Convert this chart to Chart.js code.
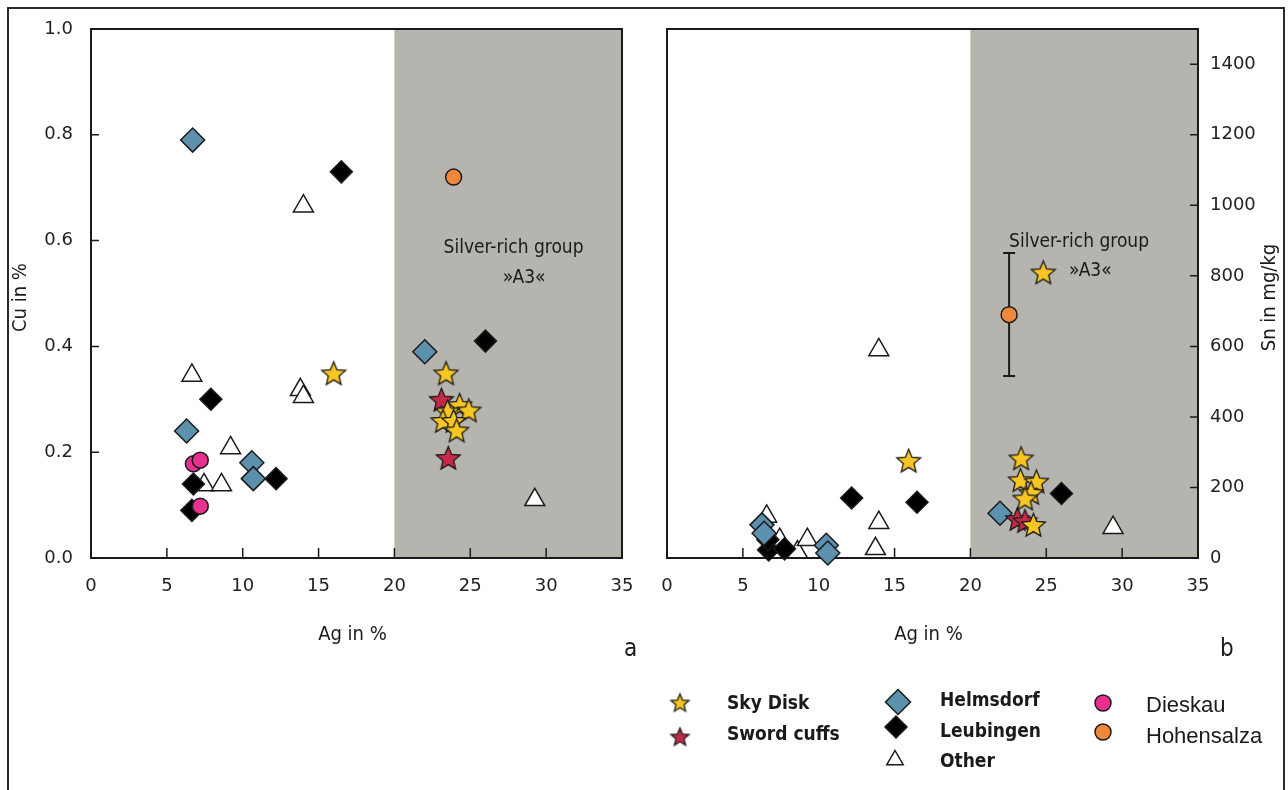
<!DOCTYPE html>
<html>
<head>
<meta charset="utf-8">
<script src="https://cdn.jsdelivr.net/npm/chart.js@4.4.1/dist/chart.umd.min.js"></script>
<style>
  body { margin: 0; background: #fff; width: 1288px; height: 790px; overflow: hidden; position: relative; }
  #frame { position: absolute; left: 7px; top: 7px; width: 1274px; height: 800px; border: 2px solid #2a2a2a; }
  canvas { position: absolute; }
  .lab { position: absolute; white-space: nowrap; color: #1a1a1a; line-height: 1; transform: translateY(-50%); }
  .lg1 { font-family: "DejaVu Sans Condensed", "Liberation Sans Narrow", sans-serif; font-weight: bold; font-size: 19px; }
  .lg2 { font-family: "Liberation Sans", Arial, sans-serif; font-size: 22px; }
  .panel { font-family: "DejaVu Sans Condensed", sans-serif; font-size: 24px; }
</style>
</head>
<body>
<div id="frame"></div>
<canvas id="chartA" width="640" height="660" style="left:0;top:0"></canvas>
<canvas id="chartB" width="648" height="660" style="left:640px;top:0"></canvas>
<canvas id="legend" width="648" height="128" style="left:640px;top:660px"></canvas>
<div class="lab panel" style="left:624px;top:648px">a</div>
<div class="lab panel" style="left:1220px;top:648px">b</div>

<script>
// Achsen
const agTicks = [0, 5, 10, 15, 20, 25, 30, 35];
const cuTicks = [0, 0.2, 0.4, 0.6, 0.8, 1.0];
const snTicks = [0, 200, 400, 600, 800, 1000, 1200, 1400];
const silverRichFrom = 20;

// Panel a: Cu gegen Ag
const skyDiskAgA = [16.0, 23.4, 24.3, 24.9, 23.5, 23.2, 23.9, 24.1];
const skyDiskCu = [0.35, 0.35, 0.29, 0.28, 0.278, 0.26, 0.26, 0.242];
const swordAgA = [23.1, 23.55];
const swordCu = [0.30, 0.19];
const helmsdorfAgA = [6.7, 22.0, 6.3, 10.6, 10.7];
const helmsdorfCu = [0.79, 0.39, 0.24, 0.18, 0.15];
const leubingenAgA = [16.5, 26.0, 7.9, 12.2, 6.75, 6.65];
const leubingenCu = [0.73, 0.41, 0.30, 0.15, 0.14, 0.09];
const otherAgA = [14.0, 6.65, 13.8, 14.0, 9.2, 7.45, 8.6, 29.25];
const otherCu = [0.665, 0.345, 0.318, 0.305, 0.208, 0.138, 0.138, 0.11];
const dieskauAgA = [6.75, 7.2, 7.2];
const dieskauCu = [0.178, 0.185, 0.098];
const hohensalzaAgA = [23.9];
const hohensalzaCu = [0.72];

// Panel b: Sn gegen Ag
const skyDiskAgB = [15.93, 23.34, 23.3, 24.35, 24.0, 23.6, 24.15, 24.8];
const skyDiskSn = [277, 284, 222, 218, 186, 170, 95, 811];
const swordAgB = [23.1, 23.6];
const swordSn = [112, 106];
const helmsdorfAgB = [6.26, 6.4, 10.5, 10.6, 21.95];
const helmsdorfSn = [94, 70, 36, 14, 127];
const leubingenAgB = [12.17, 16.48, 26.0, 6.7, 7.75, 6.65];
const leubingenSn = [170, 158, 183, 23, 26, 52];
const otherAgB = [13.96, 13.96, 13.74, 6.57, 7.43, 8.6, 9.25, 29.4];
const otherSn = [590, 100, 26, 118, 52, 17, 52, 86];
const hohensalzaAgB = [22.55];
const hohensalzaSn = [690];
const hohensalzaSnLow = [516];
const hohensalzaSnHigh = [865];

const colors = {
    sky: '#f7c623', sword: '#c42a48', helmsdorf: '#5b91ad',
    leubingen: '#000000', other: '#ffffff', dieskau: '#e8308f', hohensalza: '#f0883a'
};
const edge = '#1a1a1a';
const tickFont = { family: 'DejaVu Sans', size: 18 };
const condensed = '"DejaVu Sans Condensed", "Liberation Sans Narrow", sans-serif';

// Stern als Bild, weil Chart.js keinen gefuellten Stern kennt
function makeStar(r, fill) {
    const c = document.createElement('canvas');
    const s = Math.ceil(r * 2 + 4);
    c.width = s; c.height = s;
    const g = c.getContext('2d');
    g.beginPath();
    for (let i = 0; i < 10; i++) {
        const rad = i % 2 === 0 ? r : r * 0.45;
        const a = -Math.PI / 2 + i * Math.PI / 5;
        const px = s / 2 + rad * Math.cos(a);
        const py = s / 2 + 1.5 + rad * Math.sin(a);
        if (i === 0) g.moveTo(px, py); else g.lineTo(px, py);
    }
    g.closePath();
    g.fillStyle = fill; g.fill();
    g.lineWidth = 1.3; g.strokeStyle = edge; g.stroke();
    return c;
}

const skyStar = makeStar(12.5, colors.sky);
const swordStar = makeStar(12.5, colors.sword);

function toPoints(xs, ys) {
    return xs.map((x, i) => ({ x: x, y: ys[i] }));
}

function series(label, xs, ys, style, radius, fill, order) {
    return {
        label: label,
        data: toPoints(xs, ys),
        pointStyle: style,
        pointRadius: radius,
        pointHoverRadius: radius,
        pointBackgroundColor: fill,
        pointBorderColor: edge,
        pointBorderWidth: 1.5,
        showLine: false,
        clip: false,
        order: order
    };
}

const panelDecor = {
    id: 'panelDecor',
    beforeDatasetsDraw(chart, args, opts) {
        const { ctx, chartArea: a, scales } = chart;
        const xs = scales.x, ys = scales.y;
        ctx.save();
        // grauer Bereich "Silver-rich"
        const gx = xs.getPixelForValue(opts.shadeFrom);
        ctx.fillStyle = '#b5b4ae';
        ctx.fillRect(gx, a.top, a.right - gx, a.bottom - a.top);
        // Rahmen
        ctx.strokeStyle = edge;
        ctx.lineWidth = 2;
        ctx.strokeRect(a.left, a.top, a.right - a.left, a.bottom - a.top);
        // Teilstriche nach innen
        ctx.lineWidth = 1.5;
        ctx.beginPath();
        xs.ticks.forEach((t, i) => {
            const px = xs.getPixelForTick(i);
            ctx.moveTo(px, a.bottom);
            ctx.lineTo(px, a.bottom - 10);
        });
        ys.ticks.forEach((t, i) => {
            const py = ys.getPixelForTick(i);
            if (opts.ySide === 'left') {
                ctx.moveTo(a.left, py); ctx.lineTo(a.left + 8, py);
            } else {
                ctx.moveTo(a.right, py); ctx.lineTo(a.right - 8, py);
            }
        });
        ctx.stroke();
        // Fehlerbalken
        (opts.errorBars || []).forEach(eb => {
            eb.x.forEach((xv, i) => {
                const px = xs.getPixelForValue(xv);
                const y1 = ys.getPixelForValue(eb.low[i]);
                const y2 = ys.getPixelForValue(eb.high[i]);
                ctx.lineWidth = 2;
                ctx.beginPath();
                ctx.moveTo(px, y1); ctx.lineTo(px, y2);
                ctx.moveTo(px - 6, y1); ctx.lineTo(px + 6, y1);
                ctx.moveTo(px - 6, y2); ctx.lineTo(px + 6, y2);
                ctx.stroke();
            });
        });
        ctx.restore();
    },
    afterDatasetsDraw(chart, args, opts) {
        const { ctx, chartArea: a, scales } = chart;
        ctx.save();
        ctx.fillStyle = '#1a1a1a';
        ctx.textAlign = 'center';
        ctx.textBaseline = 'middle';
        ctx.font = '19px ' + condensed;
        (opts.notes || []).forEach(n => {
            ctx.fillText(n.text, scales.x.getPixelForValue(n.x), scales.y.getPixelForValue(n.y));
        });
        // Achsentitel
        ctx.font = '20px ' + condensed;
        ctx.fillText(opts.xTitle, (a.left + a.right) / 2 - 4, a.bottom + 77);
        const ty = (a.top + a.bottom) / 2 + 4;
        const tx = opts.ySide === 'left' ? 21 : a.right + 72;
        ctx.translate(tx, ty);
        ctx.rotate(-Math.PI / 2);
        ctx.fillText(opts.yTitle, 0, 0);
        ctx.restore();
    }
};

function makeChart(id, datasets, yTicks, yMax, yFmt, side, decor) {
    const padding = side === 'left'
        ? { left: 0, right: 18, top: 29, bottom: 0 }
        : { left: 27, right: 0, top: 29, bottom: 0 };
    return new Chart(document.getElementById(id), {
        type: 'scatter',
        data: { datasets: datasets },
        options: {
            responsive: false,
            animation: false,
            events: [],
            layout: { padding: padding },
            plugins: { legend: { display: false }, tooltip: { enabled: false }, panelDecor: decor },
            scales: {
                x: {
                    type: 'linear', min: 0, max: 35,
                    afterBuildTicks: s => { s.ticks = agTicks.map(v => ({ value: v })); },
                    ticks: { font: tickFont, color: '#222', padding: 18, maxRotation: 0 },
                    grid: { display: false, drawTicks: false },
                    border: { display: false },
                    afterFit: s => { s.height = 102; s.paddingLeft = 0; s.paddingRight = 0; }
                },
                y: {
                    type: 'linear', position: side, min: 0, max: yMax,
                    afterBuildTicks: s => { s.ticks = yTicks.map(v => ({ value: v })); },
                    ticks: { font: tickFont, color: '#222', padding: side === 'left' ? 18 : 12, callback: yFmt },
                    grid: { display: false, drawTicks: false },
                    border: { display: false },
                    afterFit: s => { s.width = side === 'left' ? 91 : 90; s.paddingTop = 0; s.paddingBottom = 0; }
                }
            }
        },
        plugins: [panelDecor]
    });
}

makeChart('chartA', [
    series('Sky Disk', skyDiskAgA, skyDiskCu, skyStar, 12, colors.sky, 0),
    series('Sword cuffs', swordAgA, swordCu, swordStar, 12, colors.sword, 1),
    series('Hohensalza', hohensalzaAgA, hohensalzaCu, 'circle', 8, colors.hohensalza, 2),
    series('Dieskau', dieskauAgA, dieskauCu, 'circle', 8, colors.dieskau, 3),
    series('Helmsdorf', helmsdorfAgA, helmsdorfCu, 'rectRot', 12, colors.helmsdorf, 4),
    series('Leubingen', leubingenAgA, leubingenCu, 'rectRot', 11, colors.leubingen, 5),
    series('Other', otherAgA, otherCu, 'triangle', 11.5, colors.other, 6)
], cuTicks, 1.0, v => v.toFixed(1), 'left', {
    shadeFrom: silverRichFrom, ySide: 'left', xTitle: 'Ag in %', yTitle: 'Cu in %',
    notes: [{ text: 'Silver-rich group', x: 27.85, y: 0.586 }, { text: '»A3«', x: 28.55, y: 0.529 }]
});

makeChart('chartB', [
    series('Sky Disk', skyDiskAgB, skyDiskSn, skyStar, 12, colors.sky, 0),
    series('Sword cuffs', swordAgB, swordSn, swordStar, 12, colors.sword, 1),
    series('Hohensalza', hohensalzaAgB, hohensalzaSn, 'circle', 8, colors.hohensalza, 2),
    series('Helmsdorf', helmsdorfAgB, helmsdorfSn, 'rectRot', 12, colors.helmsdorf, 4),
    series('Leubingen', leubingenAgB, leubingenSn, 'rectRot', 11, colors.leubingen, 5),
    series('Other', otherAgB, otherSn, 'triangle', 11.5, colors.other, 6)
], snTicks, 1500, v => String(v), 'right', {
    shadeFrom: silverRichFrom, ySide: 'right', xTitle: 'Ag in %', yTitle: 'Sn in mg/kg',
    errorBars: [{ x: hohensalzaAgB, low: hohensalzaSnLow, high: hohensalzaSnHigh }],
    notes: [{ text: 'Silver-rich group', x: 27.16, y: 896 }, { text: '»A3«', x: 27.9, y: 814 }]
});

// Legende
const legendItems = [
    { label: 'Sky Disk', shape: 'star', fill: colors.sky, cls: 'lg1', mx: 40, my: 42, tx: 87, ty: 42, r: 9.5 },
    { label: 'Sword cuffs', shape: 'star', fill: colors.sword, cls: 'lg1', mx: 40, my: 76, tx: 87, ty: 73, r: 9.5 },
    { label: 'Helmsdorf', shape: 'diamond', fill: colors.helmsdorf, cls: 'lg1', mx: 258, my: 42, tx: 300, ty: 39, r: 12.5 },
    { label: 'Leubingen', shape: 'diamond', fill: colors.leubingen, cls: 'lg1', mx: 256, my: 67, tx: 300, ty: 70, r: 11 },
    { label: 'Other', shape: 'triangle', fill: colors.other, cls: 'lg1', mx: 255, my: 100, tx: 300, ty: 100, r: 9.5 },
    { label: 'Dieskau', shape: 'circle', fill: colors.dieskau, cls: 'lg2', mx: 463, my: 43, tx: 506, ty: 45, r: 8 },
    { label: 'Hohensalza', shape: 'circle', fill: colors.hohensalza, cls: 'lg2', mx: 463, my: 72, tx: 506, ty: 76, r: 8 }
];

const lg = document.getElementById('legend').getContext('2d');
legendItems.forEach(it => {
    lg.save();
    lg.fillStyle = it.fill;
    lg.strokeStyle = edge;
    lg.lineWidth = 1.5;
    if (it.shape === 'star') {
        const img = makeStar(it.r, it.fill);
        lg.drawImage(img, it.mx - img.width / 2, it.my - img.height / 2);
    } else {
        lg.beginPath();
        if (it.shape === 'diamond') {
            lg.moveTo(it.mx, it.my - it.r); lg.lineTo(it.mx + it.r, it.my);
            lg.lineTo(it.mx, it.my + it.r); lg.lineTo(it.mx - it.r, it.my);
        } else if (it.shape === 'triangle') {
            lg.moveTo(it.mx, it.my - it.r);
            lg.lineTo(it.mx + it.r * 0.866, it.my + it.r / 2);
            lg.lineTo(it.mx - it.r * 0.866, it.my + it.r / 2);
        } else {
            lg.arc(it.mx, it.my, it.r, 0, Math.PI * 2);
        }
        lg.closePath();
        lg.fill();
        lg.stroke();
    }
    lg.restore();

    const d = document.createElement('div');
    d.className = 'lab ' + it.cls;
    d.style.left = (640 + it.tx) + 'px';
    d.style.top = (660 + it.ty) + 'px';
    d.textContent = it.label;
    document.body.appendChild(d);
});
</script>
</body>
</html>
